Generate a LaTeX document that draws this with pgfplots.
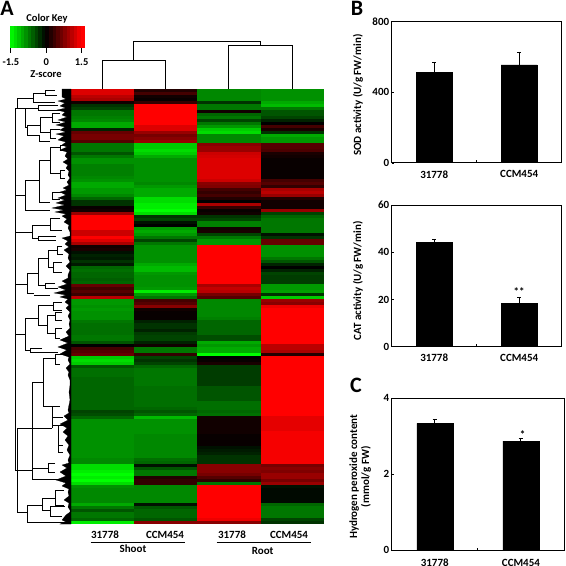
\documentclass[border=0pt]{standalone}
\usepackage{pgfplots}
\usepackage{pgfplotstable}
\usepackage{fontspec}
\setmainfont{Carlito}
\pgfplotsset{compat=1.18}
\pgfdeclareplotmark{cell}{\pgfpathrectangle{\pgfpoint{-31.8pt}{-1.75pt}}{\pgfpoint{63.6pt}{3.5pt}}\pgfusepathqfill}
\pgfdeclareplotmark{keycell}{\pgfpathrectangle{\pgfpoint{-2pt}{-11pt}}{\pgfpoint{4pt}{22pt}}\pgfusepathqfill}
\pgfplotstableread{
row a b c d
0 1.3 .2 -.8 -.85
1 1.3 .4 -.8 -.85
2 1.1 .1 -.8 -.85
3 1.0 .05 -.8 -.85
4 .1 .3 -.3 -1.0
5 -.3 1.5 -.7 -1.1
6 -.4 1.5 -.7 -.7
7 -.7 1.5 .1 -.5
8 -.7 1.5 -.6 -.5
9 -.75 1.5 -.7 -.4
10 -.8 1.5 -.4 -.2
11 -1.0 1.5 -.7 0
12 -1.0 1.3 -.9 .4
13 -.2 1.3 -1.2 .15
14 .6 .9 -1.3 -.3
15 .7 .7 -.8 -1.0
16 .7 .8 -.8 -.9
17 .5 .9 -.8 -.9
18 -.7 -1.2 .8 .5
19 -.7 -1.2 .9 .5
20 -.7 -1.3 .9 .45
21 -.5 -1.2 1.2 .15
22 -.7 -1.0 1.25 .1
23 -.85 -.85 1.3 .05
24 -.85 -.85 1.3 .05
25 -.75 -.85 1.3 .05
26 -.75 -.85 1.3 .05
27 -.75 -.85 1.3 .05
28 -.75 -.85 1.3 .05
29 -.8 -.85 1.3 .05
30 -.85 -.85 1.2 .4
31 -1.0 -.8 .8 .5
32 -1.0 -.9 .75 .3
33 -.9 -1.0 .4 1.0
34 -.9 -1.0 .3 1.1
35 -.8 -1.0 .4 .9
36 -.6 -1.3 .2 .2
37 -.3 -1.3 0 .1
38 -.3 -1.4 1.0 .1
39 .05 -1.4 .3 .1
40 .1 -1.5 .05 .9
41 .9 -1.3 .1 -.4
42 1.5 -.3 -.3 -.6
43 1.5 -.4 -.4 -.7
44 1.5 -.1 -.75 -.7
45 1.5 0 -.75 -.7
46 1.5 -.9 .1 -.7
47 1.2 -1.0 .15 -.7
48 1.2 -.9 -.4 -.1
49 1.5 -.7 -.7 -.3
50 1.3 -.4 -.9 .6
51 1.0 -.7 -.9 .6
52 .1 -.85 1.5 -.85
53 .15 -.85 1.5 -.85
54 -.1 -.85 1.5 -.85
55 -.2 -.85 1.5 -.85
56 -.15 -.85 1.5 -.7
57 -.3 -.85 1.5 -.5
58 -.15 -1.0 1.5 -.2
59 -.6 -1.1 1.5 0
60 -.65 -1.1 1.5 -.2
61 -.6 -.9 1.5 -.4
62 -.6 -.85 1.5 -.35
63 -.55 -.85 1.5 -.35
64 -.6 -.85 1.5 -.35
65 .6 -.85 1.0 -.9
66 .4 -.9 1.15 -.9
67 .5 -1.4 1.1 -.95
68 .35 -.9 .7 -.3
69 1.1 -.7 .5 -1.2
70 -.9 .4 -.8 .9
71 -.9 .5 -.8 .8
72 -.85 .8 -.8 1.4
73 -.9 .1 -.8 1.5
74 -.85 .05 -.8 1.5
75 -.85 .05 -.8 1.5
76 -.85 .05 -.75 1.5
77 -.7 -.2 -.6 1.5
78 -.65 -.3 -.6 1.5
79 -.65 -.3 -.6 1.5
80 -.65 -.2 -.6 1.5
81 -.65 -.35 -.6 1.5
82 -.7 -.4 -.45 1.5
83 -.7 -.4 -.45 1.5
84 -.5 -.2 -1.0 1.5
85 0 .1 -.9 1.1
86 .4 -.7 -1.0 1.1
87 .5 -.7 -1.0 1.0
88 .6 .3 -1.5 .2
89 -1.2 -.4 0 1.5
90 -1.3 -.3 .05 1.5
91 -1.2 -.4 .15 1.5
92 -.5 -.6 -.35 1.5
93 -.65 -.7 -.35 1.5
94 -.65 -.7 -.35 1.5
95 -.65 -.7 -.35 1.5
96 -.6 -.7 -.35 1.5
97 -.6 -.7 -.35 1.5
98 -.6 -.7 -.35 1.5
99 -.6 -.65 -.5 1.5
100 -.6 -.65 -.5 1.5
101 -.6 -.65 -.5 1.5
102 -.6 -.65 -.5 1.5
103 -.6 -.65 -.5 1.5
104 -.6 -.65 -.65 1.5
105 -.6 -.65 -.65 1.5
106 -.6 -.6 -.65 1.5
107 -.4 -.5 -.6 1.5
108 -.45 -.6 -.65 1.5
109 -.6 -1.1 .1 1.35
110 -.85 -.85 .1 1.35
111 -.85 -.85 .1 1.35
112 -.85 -.85 .1 1.35
113 -.85 -.85 .1 1.35
114 -.85 -.85 .1 1.45
115 -.85 -.8 .05 1.45
116 -.85 -.8 .05 1.45
117 -.85 -.8 .05 1.45
118 -.85 -.8 .05 1.45
119 -.85 -.8 -.1 1.45
120 -.85 -.8 -.15 1.45
121 -.85 -.8 -.2 1.45
122 -.85 -.8 -.3 1.45
123 -.8 -.65 -.3 1.45
124 -.8 -.6 -.3 1.45
125 -1.3 -.1 .8 .7
126 -1.3 -.5 .8 .8
127 -1.4 -.7 .8 .75
128 -1.5 -.7 .7 .9
129 -1.4 .2 .5 .9
130 -1.5 .3 .3 .7
131 -1.3 .3 -.7 .9
132 -.85 -.8 1.5 -.1
133 -.8 -.8 1.5 -.05
134 -.8 -.8 1.5 -.05
135 -.8 -.8 1.5 -.05
136 -.8 -.8 1.5 -.05
137 -.8 -.8 1.5 -.05
138 -1.0 -.1 1.5 -.6
139 -.7 -.5 1.5 -.7
140 -.5 -.6 1.5 -.7
141 -.7 -.6 1.5 -.7
142 -.7 -.6 1.5 -.7
143 -.6 -.5 1.4 -.4
144 -1.4 .8 .8 -.3
}\heat
\tikzset{ylab/.style={at={(axis description cs:#1)},rotate=90,anchor=center,align=center,font=\bfseries\fontsize{11}{12}\selectfont}}
\pgfplotsset{
  /pgf/number format/assume math mode=true,
  heatcmap/.style={colormap={rg}{rgb255=(0,255,0) rgb255=(0,0,0) rgb255=(255,0,0)},point meta min=-1.5,point meta max=1.5},
  barpanel/.style={
    scale only axis, anchor=south west, width=170pt,
    xmin=0,xmax=2,ymin=0,enlargelimits=false,
    xtick={0.5,1,1.5},xticklabels={31778,,CCM454},
    axis line style={line width=1pt},
    tick style={black,line width=0.8pt},
    major tick length=2.5pt,tick align=inside,
    xtick pos=bottom,ytick pos=left,
    ticklabel style={font=\bfseries\fontsize{11}{11}\selectfont},
    xticklabel style={yshift=-4pt},
    yticklabel style={xshift=1pt},
  },
  barstyle/.style={ybar,bar width=36pt,bar shift=0pt,fill=black,draw=black,mark=none,
    error bars/.cd,y dir=plus,y explicit,error bar style={line width=1pt,black},
    error mark options={rotate=90,mark size=2.2pt,line width=1pt,black}},
}
\begin{document}
\begin{tikzpicture}
\useasboundingbox (0,0) rectangle (566pt,566pt);
% heat map
\begin{axis}[at={(71pt,42pt)},anchor=south west,scale only axis,width=253pt,height=435pt,
  xmin=0,xmax=4,ymin=-0.5,ymax=144.5,y dir=reverse,hide axis,heatcmap]
\addplot[scatter,only marks,mark=cell,scatter src=explicit,scatter/use mapped color={draw=mapped color,fill=mapped color}] table[x expr=0.5,y=row,meta=a]{\heat};
\addplot[scatter,only marks,mark=cell,scatter src=explicit,scatter/use mapped color={draw=mapped color,fill=mapped color}] table[x expr=1.5,y=row,meta=b]{\heat};
\addplot[scatter,only marks,mark=cell,scatter src=explicit,scatter/use mapped color={draw=mapped color,fill=mapped color}] table[x expr=2.5,y=row,meta=c]{\heat};
\addplot[scatter,only marks,mark=cell,scatter src=explicit,scatter/use mapped color={draw=mapped color,fill=mapped color}] table[x expr=3.5,y=row,meta=d]{\heat};
\end{axis}
% colour key
\begin{axis}[at={(9pt,518pt)},anchor=south west,scale only axis,width=75pt,height=21pt,
  xmin=-1.58,xmax=1.6,ymin=0,ymax=1,heatcmap,axis line style={draw=none},
  ytick=\empty,xtick={-1.5,0,1.5},xticklabels={-1.5,0,1.5},xtick pos=bottom,
  tick style={black,line width=0.8pt},major tick length=5pt,tick align=outside,
  ticklabel style={font=\bfseries\fontsize{10.5}{11}\selectfont},xticklabel style={yshift=-2pt}]
\addplot[scatter,only marks,mark=keycell,scatter src=x,scatter/use mapped color={draw=mapped color,fill=mapped color}] coordinates {
(-1.6,.5)(-1.45,.5)(-1.3,.5)(-1.15,.5)(-1,.5)(-.85,.5)(-.7,.5)(-.55,.5)(-.4,.5)(-.25,.5)(-.1,.5)(.05,.5)(.2,.5)(.35,.5)(.5,.5)(.65,.5)(.8,.5)(.95,.5)(1.1,.5)(1.25,.5)(1.4,.5)(1.55,.5)(1.7,.5)};
\end{axis}
% dendrograms and labels in pixel coordinates
\begin{axis}[at={(0pt,0pt)},anchor=south west,scale only axis,width=566pt,height=566pt,
  xmin=0,xmax=566,ymin=0,ymax=566,y dir=reverse,hide axis,clip=false,unbounded coords=jump]
\addplot[black,line width=1pt,forget plot] coordinates {
(102,89)(102,60.7)(165.7,60.7)(165.7,89)(nan,nan)
(228.7,89)(228.7,45.7)(292.3,45.7)(292.3,89)(nan,nan)
(133.7,60.7)(133.7,41)(260.3,41)(260.3,45.7)(nan,nan)
};
\addplot[black,fill=black,line width=0.2pt,forget plot] coordinates {
(62,89)(62,97)(66,99)(58,101)(65,103)(60,106)(66,108)(57,110)(65,112)(62,115)(67,117)(58,120)(66,122)(56,125)(65,127)(60,130)(66,132)(56,134)(64,136)(58,140)(66,142)(62,145)(67,147)(60,150)(67,152)(65,156)(68,159)(63,162)(68,165)(66,168)(69,171)(68,175)(70,178)(67,182)(69,185)(63,188)(67,190)(60,192)(66,195)(58,198)(65,200)(56,203)(65,205)(52,208)(64,210)(55,212)(66,214)(62,216)(67,219)(64,222)(69,225)(68,228)(70,232)(70,236)(62,238)(68,241)(65,244)(69,247)(64,250)(69,254)(68,258)(70,262)(66,266)(70,270)(68,275)(68,278)(62,281)(67,284)(58,287)(66,290)(54,293)(66,295)(60,297)(68,299)(65,302)(69,305)(66,308)(70,312)(68,316)(70,320)(69,324)(70,328)(66,332)(69,336)(60,340)(68,343)(58,347)(67,350)(60,354)(69,357)(68,360)(70,364)(66,368)(69,372)(68,375)(70,380)(70,385)(69,392)(70,400)(68,410)(69,413)(64,416)(68,420)(60,424)(67,428)(63,432)(68,436)(65,440)(69,445)(67,450)(70,455)(68,460)(69,463)(62,465)(67,468)(60,472)(66,476)(56,480)(66,483)(62,486)(69,489)(68,492)(69,496)(64,500)(69,503)(68,507)(70,510)(70,512)(66,515)(62,520)(66,522)(60,524)(71,524)(71,89)} --cycle;
\addplot[black,line width=1pt,forget plot] coordinates {
(25,108)(15,108)(15,470)(32,470)(nan,nan)
(15,195)(25,195)(nan,nan)(15,232)(32,232)(nan,nan)(15,284)(27,284)(nan,nan)(15,334)(25,334)(nan,nan)
(52,428)(17,428)(17,512)(27,512)(nan,nan)
(33,98)(17,98)(17,108)(nan,nan)
(45,93)(33,93)(33,102)(55,102)(nan,nan)
(55,90)(45,90)(45,95)(57,95)(nan,nan)
(38,108)(25,108)(25,127)(27,127)(nan,nan)
(58,105)(38,105)(38,110)(63,110)(nan,nan)
(40,125)(27,125)(27,135)(39,135)(nan,nan)
(52,117)(40,117)(40,132)(50,132)(nan,nan)
(60,113)(52,113)(52,122)(60,122)(nan,nan)
(60,129)(50,129)(50,138)(56,138)(nan,nan)
(39,135)(39,141)(50,141)(nan,nan)
(39,180)(25,180)(25,210)(50,210)(nan,nan)
(50,160)(39,160)(39,202)(50,202)(nan,nan)
(60,147)(50,147)(50,173)(60,173)(nan,nan)
(65,145)(60,145)(60,150)(65,150)(nan,nan)
(65,170)(60,170)(60,178)(65,178)(nan,nan)
(65,192)(52,192)(52,199)(60,199)(nan,nan)
(50,225)(32,225)(32,238)(38,238)(nan,nan)
(60,218)(50,218)(50,230)(62,230)(nan,nan)
(56,236)(38,236)(38,240)(56,240)(nan,nan)
(38,273)(27,273)(27,293)(34,293)(nan,nan)
(48,258)(38,258)(38,285)(45,285)(nan,nan)
(57,250)(48,250)(48,267)(53,267)(nan,nan)
(62,246)(57,246)(57,254)(63,254)(nan,nan)
(62,262)(53,262)(53,272)(62,272)(nan,nan)
(55,283)(45,283)(45,288)(58,288)(nan,nan)
(34,295)(50,295)(nan,nan)
(38,318)(25,318)(25,350)(30,350)(nan,nan)
(53,305)(38,305)(38,325)(47,325)(nan,nan)
(62,302)(53,302)(53,310)(62,310)(nan,nan)
(55,315)(47,315)(47,333)(55,333)(nan,nan)
(62,312)(55,312)(55,320)(62,320)(nan,nan)
(62,328)(55,328)(55,338)(60,338)(nan,nan)
(42,348)(30,348)(30,352)(58,352)(nan,nan)
(43,382)(32,382)(32,479)(60,479)(nan,nan)
(55,358)(43,358)(43,406)(60,406)(nan,nan)
(62,354)(55,354)(55,364)(60,364)(nan,nan)
(52,406)(52,428)(nan,nan)
(63,417)(52,417)(nan,nan)
(65,425)(58,425)(58,452)(63,452)(nan,nan)
(52,425)(58,425)(nan,nan)(58,445)(63,445)(nan,nan)
(55,463)(48,463)(48,472)(55,472)(nan,nan)
(48,468)(32,468)(nan,nan)
(42,505)(27,505)(27,522)(71,522)(nan,nan)
(55,498)(42,498)(42,510)(50,510)(nan,nan)
(64,490)(55,490)(55,505)(64,505)(nan,nan)
(65,506)(50,506)(50,516)(62,516)(nan,nan)
(90.7,542)(185,542)(nan,nan)(216.7,542)(310.7,542)(nan,nan)
};
\node[font=\bfseries\fontsize{10.5}{11}\selectfont] at (axis cs:47,19) {Color Key};
\node[font=\bfseries\fontsize{10.5}{11}\selectfont] at (axis cs:46,74) {Z-score};
\node[font=\bfseries\fontsize{11}{11}\selectfont] at (axis cs:105,535) {31778};
\node[font=\bfseries\fontsize{11}{11}\selectfont] at (axis cs:165,535) {CCM454};
\node[font=\bfseries\fontsize{11}{11}\selectfont] at (axis cs:232,535) {31778};
\node[font=\bfseries\fontsize{11}{11}\selectfont] at (axis cs:289,535) {CCM454};
\node[font=\bfseries\fontsize{11}{11}\selectfont] at (axis cs:133,549) {Shoot};
\node[font=\bfseries\fontsize{11}{11}\selectfont] at (axis cs:262.7,551) {Root};
\node[font=\bfseries\fontsize{22}{22}\selectfont] at (axis cs:7,8) {A};
\node[font=\bfseries\fontsize{22}{22}\selectfont] at (axis cs:357,8) {B};
\node[font=\bfseries\fontsize{22}{22}\selectfont] at (axis cs:356,385) {C};
\end{axis}
% panel B: SOD
\begin{axis}[barpanel,at={(391.7pt,403pt)},height=141.3pt,ymax=800,ytick={0,400,800},
  ylabel={SOD activity (U/g FW/min)},
  every axis y label/.style={ylab={-0.198,0.48}}]
\addplot[barstyle] coordinates {(0.5,512) +- (0,56) (1.5,555) +- (0,72)};
\end{axis}
% panel B: CAT
\begin{axis}[barpanel,at={(391.7pt,219.3pt)},height=141.7pt,ymax=60,ytick={0,20,40,60},
  ylabel={CAT activity (U/g FW/min)},
  every axis y label/.style={ylab={-0.198,0.464}}]
\addplot[barstyle] coordinates {(0.5,44.2) +- (0,1) (1.5,18.4) +- (0,2.4)};
\node[font=\bfseries\fontsize{11}{11}\selectfont] at (axis cs:1.5,23.2) {**};
\end{axis}
% panel C: H2O2
\begin{axis}[barpanel,at={(391.7pt,16pt)},width=172.3pt,height=151.7pt,ymax=4,ytick={0,2,4},
  xticklabel style={yshift=-1.5pt},
  ylabel={Hydrogen peroxide content\\(mmol/g FW)},
  every axis y label/.style={ylab={-0.183,0.483}}]
\addplot[barstyle] coordinates {(0.5,3.34) +- (0,0.11) (1.5,2.87) +- (0,0.06)};
\node[font=\bfseries\fontsize{11}{11}\selectfont] at (axis cs:1.52,3.05) {*};
\end{axis}
\end{tikzpicture}
\end{document}
